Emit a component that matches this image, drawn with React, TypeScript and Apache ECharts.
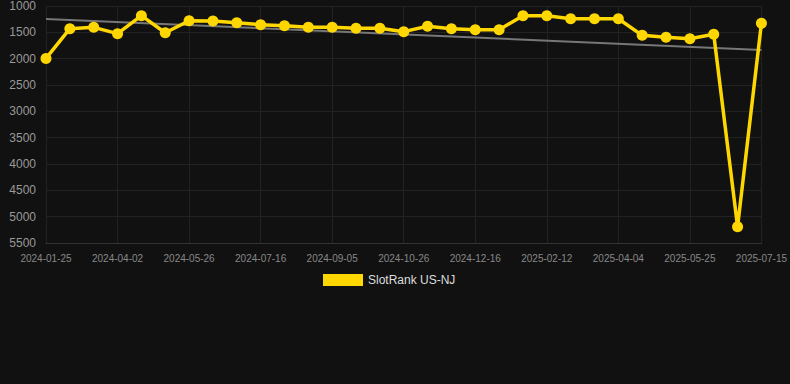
import React, { useEffect, useRef } from "react";
import * as echarts from "echarts";

const dates = [
  "2024-01-25", "2024-02-16", "2024-03-10", "2024-04-02", "2024-04-20", "2024-05-08",
  "2024-05-26", "2024-06-12", "2024-06-29", "2024-07-16", "2024-08-02", "2024-08-19",
  "2024-09-05", "2024-09-22", "2024-10-09", "2024-10-26", "2024-11-12", "2024-11-29",
  "2024-12-16", "2025-01-04", "2025-01-24", "2025-02-12", "2025-03-01", "2025-03-18",
  "2025-04-04", "2025-04-21", "2025-05-08", "2025-05-25", "2025-06-11", "2025-06-28",
  "2025-07-15",
];

const rankValues = [
  1995, 1430, 1405, 1525, 1184, 1507, 1279, 1285, 1317, 1355, 1374, 1405, 1405, 1424,
  1424, 1487, 1386, 1430, 1449, 1449, 1184, 1184, 1241, 1241, 1241, 1557, 1595, 1620,
  1538, 5190, 1329,
];

const trendStart = 1247;
const trendEnd = 1835;

const yTicks = { min: 1000, max: 5500, interval: 500 };

export default function App() {
  const ref = useRef<HTMLDivElement>(null);
  useEffect(() => {
    document.body.style.margin = "0";
    document.body.style.background = "#111111";
    const chart = echarts.init(ref.current!, undefined, { renderer: "svg" });
    const trend = dates.map((_, i) =>
      i === 0 ? trendStart : i === dates.length - 1 ? trendEnd : null
    );
    chart.setOption({
      animation: false,
      backgroundColor: "#111111",
      grid: { left: 46, right: 28, top: 6, bottom: 141 },
      legend: {
        bottom: 93,
        left: 318,
        data: [{ name: "SlotRank US-NJ", icon: "rect" }],
        itemWidth: 40,
        itemHeight: 12,
        textStyle: { color: "#dddddd", fontSize: 12, fontFamily: "Liberation Sans, Arial, sans-serif" },
      },
      xAxis: {
        type: "category",
        data: dates,
        boundaryGap: false,
        axisLine: { show: true, lineStyle: { color: "#333333" } },
        axisTick: { show: false },
        axisLabel: {
          interval: 2,
          color: "#888888",
          fontSize: 10,
          margin: 10,
          fontFamily: "Liberation Sans, Arial, sans-serif",
        },
        splitLine: { show: true, interval: 2, lineStyle: { color: "#222222" } },
      },
      yAxis: {
        type: "value",
        inverse: true,
        min: yTicks.min,
        max: yTicks.max,
        interval: yTicks.interval,
        axisLine: { show: false },
        axisTick: { show: false },
        axisLabel: {
          color: "#999999",
          fontSize: 12,
          margin: 10,
          formatter: (v: number) => String(v),
          fontFamily: "Liberation Sans, Arial, sans-serif",
        },
        splitLine: { show: true, lineStyle: { color: "#222222" } },
      },
      series: [
        {
          name: "Trend",
          type: "line",
          data: trend,
          connectNulls: true,
          symbol: "none",
          lineStyle: { color: "#777777", width: 2 },
          itemStyle: { color: "#777777" },
          z: 1,
        },
        {
          name: "SlotRank US-NJ",
          type: "line",
          data: rankValues,
          symbol: "circle",
          symbolSize: 11,
          showSymbol: true,
          lineStyle: { color: "#FFD700", width: 3.5 },
          itemStyle: { color: "#FFD700" },
          z: 2,
        },
      ],
    });
    return () => chart.dispose();
  }, []);
  return <div ref={ref} style={{ width: 790, height: 384 }} />;
}
